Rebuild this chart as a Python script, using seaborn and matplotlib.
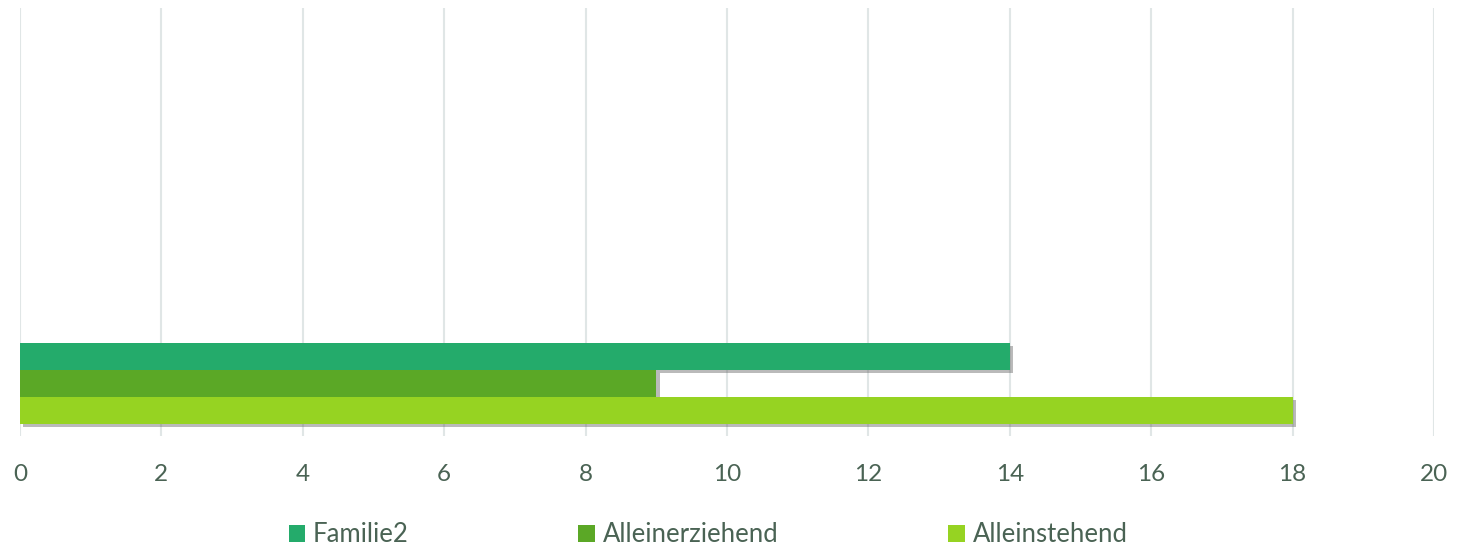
import pandas as pd
import matplotlib.pyplot as plt
import matplotlib.patheffects as pe
from matplotlib.patches import Patch
import seaborn as sns

# data
series = ["Familie2", "Alleinerziehend", "Alleinstehend"]
values = [14, 9, 18]
category = ["Haushalt"] * 3
colors = ["#24AB6B", "#5BA826", "#96D322"]

df = pd.DataFrame({"Kategorie": category, "Serie": series, "Wert": values})

sns.set_theme(style="white")
plt.rcParams['font.family'] = ['Lato', 'DejaVu Sans']
text_color = "#4A6354"

fig = plt.figure(figsize=(14.57, 5.5), dpi=100)
ax = fig.add_axes([20 / 1457, 1 - 436 / 550, 1414 / 1457, 428 / 550])

sns.barplot(data=df, y="Kategorie", x="Wert", hue="Serie", hue_order=series,
            palette=colors, width=0.8, orient="h", ax=ax, saturation=1,
            linewidth=0, legend=False)

shadow = [pe.SimplePatchShadow(offset=(2.5, -2.5), shadow_rgbFace="#666666", alpha=0.45),
          pe.Normal()]
for p in ax.patches:
    p.set_path_effects(shadow)

ax.set_xlim(0, 20)
ax.set_ylim(0.523, -3.704)
ax.set_xticks(range(0, 21, 2))
ax.set_yticks([])
ax.set_xlabel("")
ax.set_ylabel("")
ax.grid(axis="x", color="#E0E6E6", linewidth=1.5)
ax.set_axisbelow(True)
for s in ax.spines.values():
    s.set_visible(False)
ax.tick_params(axis="x", length=0, pad=20, labelsize=17.5, labelcolor=text_color)

handles = [Patch(facecolor=c, edgecolor="none") for c in colors]
fig.legend(handles, series, loc="center", bbox_to_anchor=(0.486, 1 - 535 / 550),
           ncol=3, frameon=False, fontsize=18.5, labelcolor=text_color,
           handlelength=0.65, handleheight=0.65, handletextpad=0.3,
           columnspacing=6.6)

fig.savefig("out.png", dpi=100)
